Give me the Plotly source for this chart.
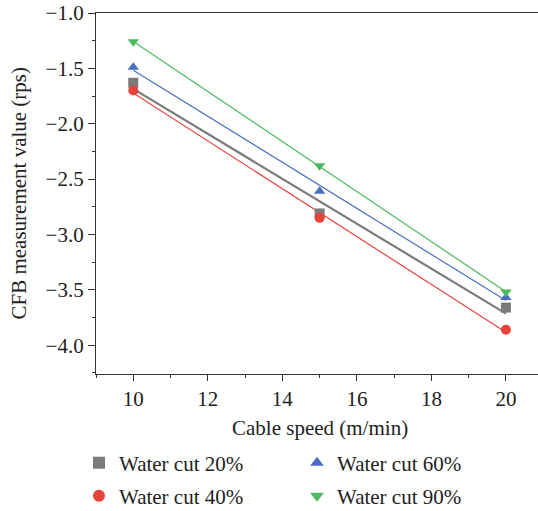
import numpy as np
import plotly.graph_objects as go

cable_speed = [10, 15, 20]
wc20 = [-1.63, -2.81, -3.66]
wc40 = [-1.70, -2.85, -3.86]
wc60 = [-1.49, -2.61, -3.57]
wc90 = [-1.26, -2.38, -3.52]

x_title = "Cable speed (m/min)"
y_title = "CFB measurement value (rps)"

series = [
    ("Water cut 20%", wc20, "#7B7B7B", "square", 2.2, "legend"),
    ("Water cut 40%", wc40, "#E8433A", "circle", 1.2, "legend2"),
    ("Water cut 60%", wc60, "#4A6FC0", "triangle-up", 1.2, "legend3"),
    ("Water cut 90%", wc90, "#4DBA5E", "triangle-down", 1.2, "legend4"),
]

FONT = "Liberation Serif"
FS = 21
fig = go.Figure()

# fitted lines
for name, ys, color, sym, lw, lg in series:
    k, b = np.polyfit(cable_speed, ys, 1)
    xs = np.array([cable_speed[0], cable_speed[-1]])
    fig.add_trace(go.Scatter(x=xs, y=k * xs + b, mode="lines",
                             line=dict(color=color, width=lw),
                             showlegend=False, hoverinfo="skip"))

for name, ys, color, sym, lw, lg in series:
    fig.add_trace(go.Scatter(x=cable_speed, y=ys, mode="markers", name=name,
                             marker=dict(symbol=sym, color=color, size=10),
                             legend=lg))

axis_common = dict(showline=True, linecolor="#333", linewidth=1.3, ticks="outside",
                   tickwidth=1.3, tickcolor="#333", showgrid=False,
                   zeroline=False, automargin=False, ticklabeloverflow="allow",
                   tickfont=dict(family=FONT, size=FS, color="#222"))

fig.update_xaxes(**axis_common, ticklen=6, range=[9, 20.86], tick0=10, dtick=2, mirror=True,
                 minor=dict(ticks="outside", ticklen=3, tickwidth=1.2, tickcolor="#333", dtick=1))
fig.update_yaxes(**axis_common, ticklen=7, range=[-4.26, -1.0], dtick=0.5, tickformat=".1f",
                 minor=dict(ticks="outside", ticklen=3, tickwidth=1.2, tickcolor="#333", dtick=0.25))

fig.add_annotation(text=x_title, xref="paper", yref="paper", x=0.507, y=0,
                   xanchor="center", yanchor="middle", yshift=-54, showarrow=False,
                   font=dict(family=FONT, size=FS, color="#222"))
fig.add_annotation(text=y_title, xref="paper", yref="paper", x=0, y=0.5,
                   xanchor="center", yanchor="middle", xshift=-78, textangle=-90,
                   showarrow=False, font=dict(family=FONT, size=FS, color="#222"))

def leg(x, y):
    return dict(x=x, y=y, xref="container", yref="container", xanchor="left",
                yanchor="middle", font=dict(family=FONT, size=FS, color="#222"),
                itemsizing="constant", bgcolor="rgba(0,0,0,0)")

fig.update_layout(
    width=538, height=511,
    margin=dict(l=96, r=0, t=13, b=137, autoexpand=False),
    plot_bgcolor="white", paper_bgcolor="white",
    font=dict(family=FONT, size=FS, color="#222"),
    legend=leg(79 / 538, 1 - 463 / 511),
    legend2=leg(79 / 538, 1 - 496 / 511),
    legend3=leg(297 / 538, 1 - 463 / 511),
    legend4=leg(297 / 538, 1 - 496 / 511),
)

fig.write_html("out.html", config={"displayModeBar": False},
               post_script="document.body.style.margin='0';")
